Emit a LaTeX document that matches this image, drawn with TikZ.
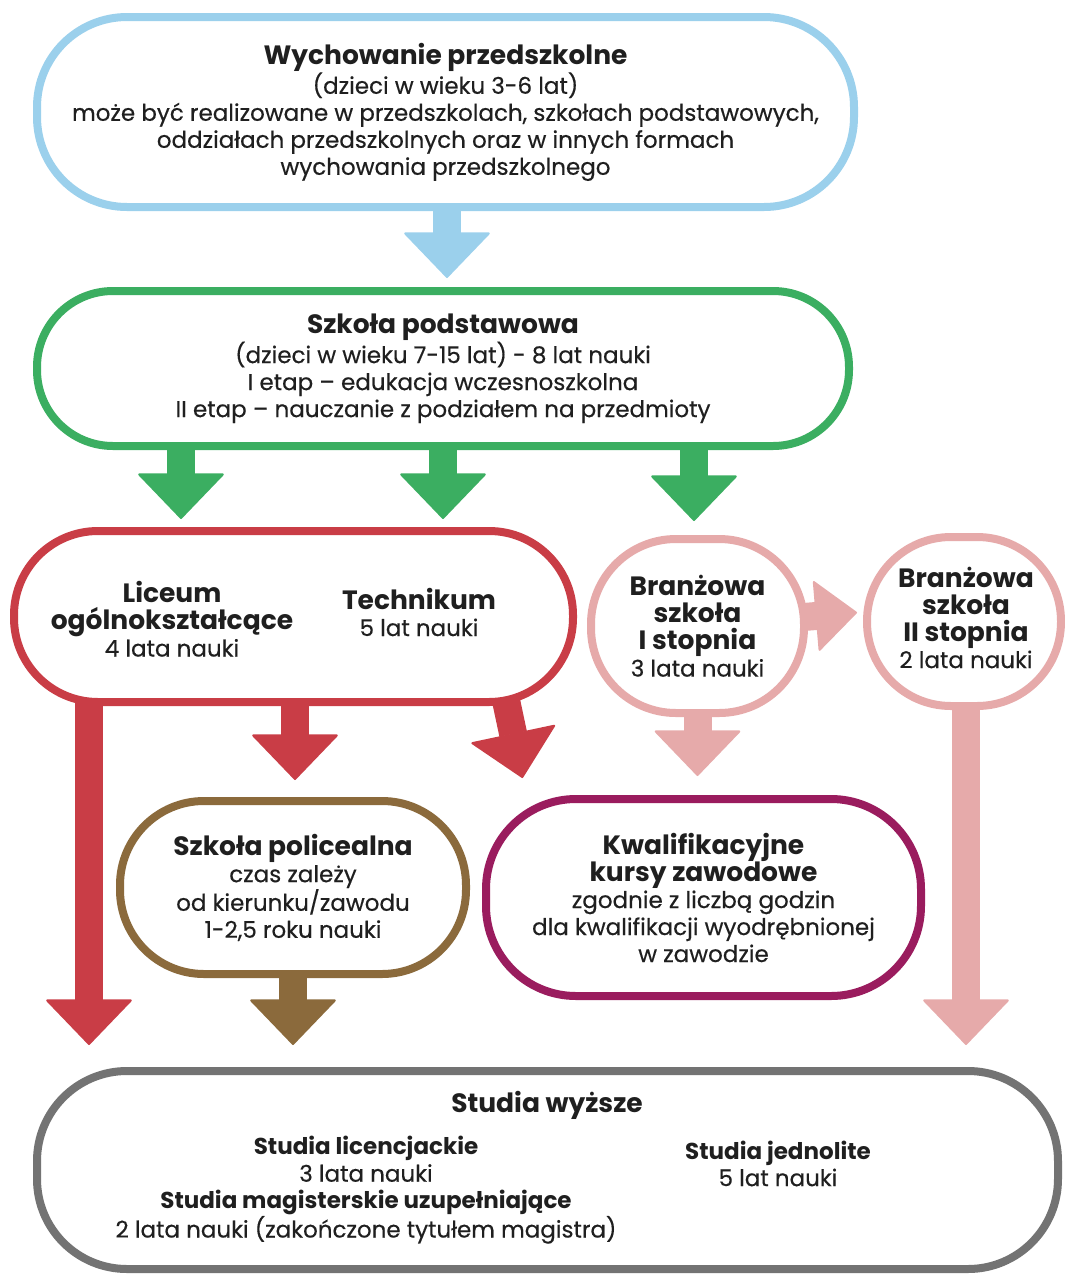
\documentclass[tikz,border=0pt]{standalone}
\usepackage{fontspec}
\setmainfont{Poppins}[UprightFeatures={FakeBold=0.4}]
\usetikzlibrary{arrows.meta,backgrounds}

\definecolor{ink}{HTML}{1F1F1F}
\definecolor{przedblue}{HTML}{9BD0EC}
\definecolor{podstgreen}{HTML}{3BAE61}
\definecolor{licred}{HTML}{C93D46}
\definecolor{branzpink}{HTML}{E6AAAA}
\definecolor{polbrown}{HTML}{8B6A3C}
\definecolor{kurspurple}{HTML}{9A1C5E}
\definecolor{studgray}{HTML}{737373}

% titles of the boxes
\newcommand{\tyt}[1]{{\bfseries\fontsize{26.5}{27}\selectfont #1}}
\newcommand{\tytm}[1]{{\bfseries #1}}

\begin{document}
\begin{tikzpicture}[x=1pt,y=-1pt,
  box/.style={draw=#1, line width=8pt, fill=white, align=center, text=ink,
    font=\fontsize{23}{27}\selectfont},
  txt/.style={align=center, text=ink, font=\fontsize{23}{27}\selectfont},
  fat/.style={draw=#1, line width=28pt,
    -{Triangle[width=88pt,length=46pt,line width=2pt,round]}},
  fatsmall/.style={draw=#1, line width=28pt,
    -{Triangle[width=72pt,length=42pt,line width=2pt,round]}}]
\useasboundingbox (0,0) rectangle (1065,1278);

% Define the boxes
\node[box=przedblue, minimum width=817pt, minimum height=190pt, rounded corners=90pt]
  (pre) at (445.5,112)
  {\tyt{Wychowanie przedszkolne}\\
   (dzieci w wieku 3-6 lat)\\
   może być realizowane w przedszkolach, szkołach podstawowych,\\
   oddziałach przedszkolnych oraz w innych formach\\
   wychowania przedszkolnego};

\node[box=podstgreen, minimum width=812pt, minimum height=155pt, rounded corners=76pt]
  (podst) at (443,368.5)
  {\tyt{Szkoła podstawowa}\\
   (dzieci w wieku 7-15 lat) - 8 lat nauki\\
   I etap – edukacja wczesnoszkolna\\
   II etap – nauczanie z podziałem na przedmioty};

\node[box=licred, minimum width=559pt, minimum height=171pt, rounded corners=84pt]
  (red) at (293.5,616.5) {};
\node[txt] (lic) at (172,619)
  {\tyt{Liceum}\\ \tyt{ogólnokształcące}\\ 4 lata nauki};
\node[txt] (tech) at (419,612)
  {\tyt{Technikum}\\ 5 lat nauki};

\node[box=branzpink, minimum width=213pt, minimum height=174pt, rounded corners=85pt]
  (br1) at (697.5,626)
  {\tyt{Branżowa}\\ \tyt{szkoła}\\ \tyt{I stopnia}\\ 3 lata nauki};

\node[box=branzpink, minimum width=194pt, minimum height=169pt, rounded corners=84pt]
  (br2) at (964,621.5) {};
\node[txt] (br2t) at (966,617.5)
  {\tyt{Branżowa}\\ \tyt{szkoła}\\ \tyt{II stopnia}\\ 2 lata nauki};

\node[box=polbrown, minimum width=346pt, minimum height=173pt, rounded corners=84pt]
  (pol) at (293,887.5)
  {\tyt{Szkoła policealna}\\ czas zależy\\ od kierunku/zawodu\\ 1-2,5 roku nauki};

\node[box=kurspurple, minimum width=435pt, minimum height=197pt, rounded corners=90pt]
  (kurs) at (703.5,897.5)
  {\tyt{Kwalifikacyjne}\\ \tyt{kursy zawodowe}\\ zgodnie z liczbą godzin\\
   dla kwalifikacji wyodrębnionej\\ w zawodzie};

\node[box=studgray, minimum width=1021pt, minimum height=198pt, rounded corners=90pt]
  (stud) at (547.5,1170) {};
\node[txt] (studt) at (547,1105) {\tyt{Studia wyższe}};
\node[txt] (studlic) at (366,1190)
  {\tytm{Studia licencjackie}\\ 3 lata nauki\\
   \tytm{Studia magisterskie uzupełniające}\\
   2 lata nauki (zakończone tytułem magistra)};
\node[txt] (studjed) at (778,1163.5)
  {\tytm{Studia jednolite}\\ 5 lat nauki};

% Arrows behind the boxes
\begin{scope}[on background layer]
\draw[fat=przedblue] ([xshift=1.5pt,yshift=4pt]pre.south) -- ++(0,71);

\draw[fat=podstgreen] ([xshift=-262pt,yshift=4pt]podst.south) -- ++(0,73);
\draw[fat=podstgreen] ([yshift=4pt]podst.south) -- ++(0,73);
\draw[fat=podstgreen] ([xshift=251pt,yshift=4pt]podst.south) -- ++(0,75);

\draw[fat=licred] ([xshift=-204.5pt,yshift=4pt]red.south) -- ++(0,343);
\draw[fat=licred] ([xshift=1.5pt,yshift=4pt]red.south) -- ++(0,78);
\draw[fat=licred] ([xshift=212pt,yshift=8pt]red.south) -- ++(17,80);

\draw[fat=branzpink] ([yshift=4pt]br1.south) -- ++(0,63);
\draw[fatsmall=branzpink] ([xshift=-4pt,yshift=9pt]br1.east) -- ([xshift=-6pt,yshift=9pt]br2.west);
\draw[fat=branzpink] ([xshift=2pt,yshift=4pt]br2.south) -- ++(0,339);

\draw[fat=polbrown] ([yshift=4pt]pol.south) -- ++(0,71);
\end{scope}
\end{tikzpicture}
\end{document}
